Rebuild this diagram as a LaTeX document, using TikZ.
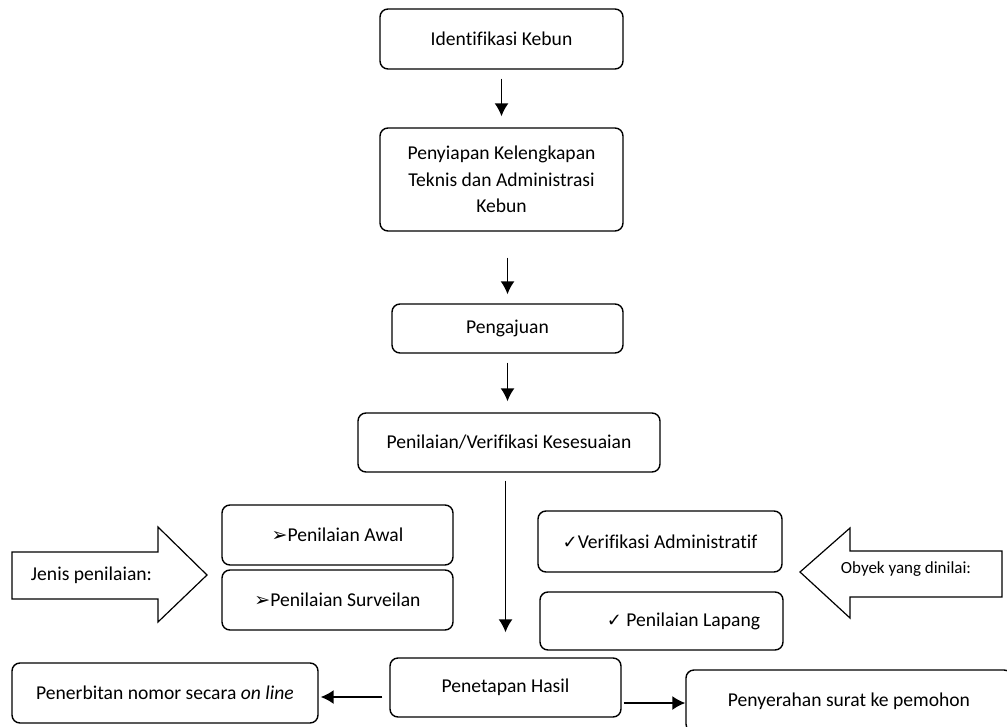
\documentclass[tikz,border=0pt]{standalone}
\usepackage{fontspec}
\setmainfont{Carlito}[Ligatures=NoCommon]
\newfontfamily\symfont{DejaVu Sans}
\usetikzlibrary{arrows.meta, positioning}
\tikzset{
	stage/.style={draw, rectangle, rounded corners=8pt, line width=1.4pt, align=center, inner sep=2pt},
	% block arrows at the sides
	pointer/.style={draw, line width=1.2pt, line join=miter},
}
\newcommand{\bul}{{\symfont\fontsize{19}{19}\selectfont ➢}}
\newcommand{\chk}{{\symfont\fontsize{18}{18}\selectfont ✓}}

\begin{document}
\begin{tikzpicture}[x=1pt, y=-1pt, font=\fontsize{19.6}{26.7}\selectfont]
				\useasboundingbox (0,0) rectangle (1007,726);
				
				% main column
				\node (ident) [stage, minimum width=243pt, minimum height=60pt] at (501.5,39) {Identifikasi Kebun};
				\node (siap) [stage, minimum width=243pt, minimum height=103pt] at (501.5,179.5) {Penyiapan Kelengkapan\\Teknis dan Administrasi\\Kebun};
				\node (ajuan) [stage, minimum width=231pt, minimum height=49pt] at (507.5,328.5) {Pengajuan};
				\node (nilai) [stage, minimum width=302pt, minimum height=59pt] at (509,442.5) {Penilaian/Verifikasi Kesesuaian};
				\node (tetap) [stage, minimum width=231pt, minimum height=59pt] at (505.5,687.5) {Penetapan Hasil};
				
				% left side
				\node (awal) [stage, minimum width=231pt, minimum height=60pt] at (337.5,535) {\bul Penilaian Awal};
				\node (surv) [stage, minimum width=231pt, minimum height=60pt] at (337.5,600) {\bul Penilaian Surveilan};
				\node (terbit) [stage, minimum width=306pt, minimum height=60pt] at (165,693) {Penerbitan nomor secara \textit{on line}};
				
				% right side
				\node (verif) [stage, minimum width=244pt, minimum height=61pt] at (660,541.5) {\chk Verifikasi Administratif};
				\node (lapang) [stage, minimum width=243pt, minimum height=58pt] at (661.5,621) {\hspace*{44pt}\chk\ Penilaian Lapang};
				\node (serah) [stage, minimum width=326pt, minimum height=62pt] at (849,701) {Penyerahan surat ke pemohon};
				
				% block arrows
				\draw [pointer] (12,552) -- (158,552) -- (158,527) -- (207,575) -- (158,622) -- (158,599) -- (12,599) -- cycle;
				\node (jenis) at (91.5,575) {Jenis penilaian:};
				\draw [pointer] (1002,551) -- (850,551) -- (850,528) -- (800,572) -- (850,618) -- (850,597) -- (1002,597) -- cycle;
				\node (obyek) [font=\fontsize{17}{20}\selectfont] at (906,569) {Obyek yang dinilai:};
				
				\begin{scope}[line width=1.5pt, black, ->, >={Latex[length=13pt, width=14pt]}]
					\draw [shorten <=9pt, shorten >=11pt] (ident.south) -- (ident.south |- siap.north);
					\draw [shorten <=26pt, shorten >=9pt] (siap.south -| ajuan.north) -- (ajuan.north);
					\draw [shorten <=9pt, shorten >=11pt] (ajuan.south) -- (ajuan.south |- nilai.north);
					\draw [shorten <=8pt, shorten >=25pt] (tetap.north |- nilai.south) -- (tetap.north);
					
					\draw [shorten <=7pt, shorten >=2pt] ([yshift=-9.5pt]tetap.west) -- ([yshift=-9.5pt]tetap.west -| terbit.east);
					\draw [shorten <=2pt] ([yshift=-15.5pt]tetap.east) -- ([yshift=-15.5pt]tetap.east -| serah.west);
				\end{scope}
			\end{tikzpicture}
\end{document}
